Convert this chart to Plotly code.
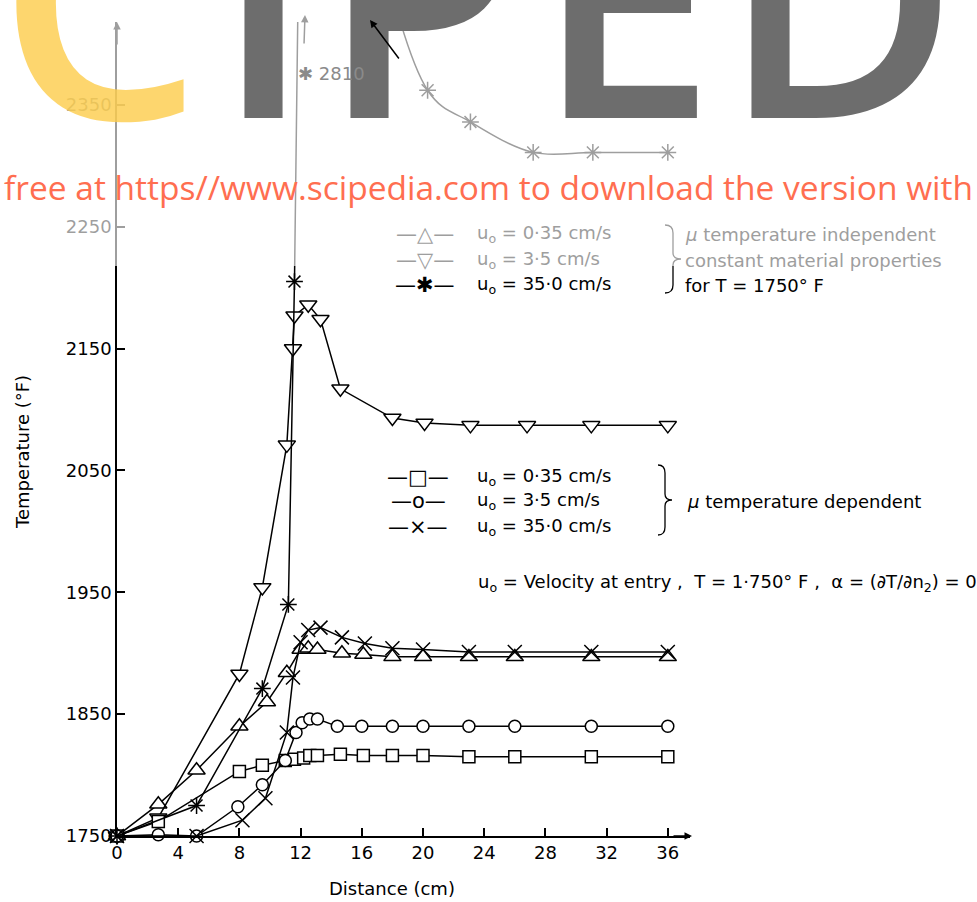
import plotly.graph_objects as go

# Distance from entry (cm) and wall temperature (deg F) for each case
# mu temperature independent (constant properties)
x_up = [0, 2.7, 5.2, 8.0, 9.8, 11.1, 12.0, 12.5, 13.1, 14.7, 16.1, 18.0, 20.0, 23.0, 26.0, 31.0, 36.0]
t_up = [1750, 1776, 1804, 1840, 1860, 1884, 1903, 1904, 1903, 1900, 1899, 1897, 1897, 1897, 1897, 1897, 1897]

x_down = [0, 2.7, 8.0, 9.5, 11.1, 11.5, 11.6, 12.5, 13.3, 14.6, 18.0, 20.1, 23.1, 26.8, 31.0, 36.0]
t_down = [1750, 1765, 1883, 1954, 2071, 2150, 2177, 2186, 2174, 2117, 2093, 2089, 2087, 2087, 2087, 2087]

x_star = [0, 5.2, 9.5, 11.2, 11.6, 12.2, 20.3, 23.1, 27.2, 31.1, 36.0]
t_star = [1750, 1775, 1871, 1940, 2205, 2810, 2362, 2336, 2311, 2311, 2311]
peak_idx = t_star.index(max(t_star))

# mu temperature dependent
x_sq = [0, 2.7, 8.0, 9.5, 11.0, 11.6, 12.2, 12.6, 13.1, 14.6, 16.1, 18.0, 20.0, 23.0, 26.0, 31.0, 36.0]
t_sq = [1750, 1762, 1803, 1808, 1812, 1813, 1814, 1816, 1816, 1817, 1816, 1816, 1816, 1815, 1815, 1815, 1815]

x_circ = [0, 2.7, 5.2, 7.9, 9.5, 11.0, 11.7, 12.1, 12.6, 13.1, 14.4, 16.0, 18.0, 20.0, 23.0, 26.0, 31.0, 36.0]
t_circ = [1750, 1751, 1750, 1774, 1792, 1812, 1835, 1843, 1846, 1846, 1840, 1840, 1840, 1840, 1840, 1840, 1840, 1840]

x_cross = [0, 5.2, 8.2, 9.7, 11.1, 11.5, 12.0, 12.5, 13.3, 14.7, 16.2, 18.0, 20.0, 23.0, 26.0, 31.0, 36.0]
t_cross = [1750, 1750, 1763, 1781, 1835, 1880, 1909, 1919, 1921, 1913, 1908, 1904, 1903, 1901, 1901, 1901, 1901]

x_ticks = [0, 4, 8, 12, 16, 20, 24, 28, 32, 36]
y_ticks = [1750, 1850, 1950, 2050, 2150, 2250, 2350]

# page geometry (pixels) of the plotting area
W, H = 977, 902
L, R, T, B = 117, 690, 22, 836
X_MAX = 37.45
Y_MIN, Y_MAX = 1750, 2418

FONT = "DejaVu Sans"
INK = "black"
FADED = "#9e9e9e"


def px(x):
    return (x - L) / (R - L)


def py(y):
    return (B - y) / (B - T)


def series(x, y, symbol, size, name, shape="linear", fill="white"):
    return go.Scatter(
        x=x, y=y, mode="lines+markers", name=name, cliponaxis=False,
        line=dict(color=INK, width=1.5, shape=shape, smoothing=1.0),
        marker=dict(symbol=symbol, size=size, color=fill,
                    line=dict(color=INK, width=1.5)),
        showlegend=False,
    )


fig = go.Figure()
fig.add_trace(series(x_up, t_up, "triangle-up", 15, "u0=0.35 const"))
fig.add_trace(series(x_down, t_down, "triangle-down", 15, "u0=3.5 const"))
fig.add_trace(series(x_sq, t_sq, "square", 12, "u0=0.35 mu(T)"))
fig.add_trace(series(x_circ, t_circ, "circle", 12, "u0=3.5 mu(T)"))
fig.add_trace(series(x_cross, t_cross, "x-thin", 14, "u0=35 mu(T)"))
fig.add_trace(series(x_star[:peak_idx + 1], t_star[:peak_idx + 1],
                     "asterisk", 14, "u0=35 const"))
fig.add_trace(series(x_star[peak_idx:], t_star[peak_idx:],
                     "asterisk", 14, "u0=35 const tail", shape="spline"))

ann = []

# site watermark (drawn first so the chart labels sit on top of it)
ann.append(dict(text="free at https//www.scipedia.com to download the version with",
                x=px(2), y=py(212), xref="paper", yref="paper", xanchor="left",
                yanchor="bottom", showarrow=False,
                font=dict(family="Open Sans", size=33.5, color="#ff6e50")))
big = dict(family="Open Sans", size=325, weight=600, color="#6d6d6d")
for letter, cx in [("I", 263), ("P", 420), ("E", 625), ("D", 840)]:
    ann.append(dict(text=letter, x=px(cx), y=py(215), xref="paper", yref="paper",
                    xanchor="center", yanchor="bottom", showarrow=False, font=big))
ann.append(dict(text="C", x=px(100), y=py(216), xref="paper", yref="paper",
                xanchor="center", yanchor="bottom", showarrow=False, opacity=0.8,
                font=dict(family="Open Sans", size=325, weight=600,
                          color="rgb(253,205,74)")))


def text(s, x, y, size=18, color=INK, xanchor="left", yanchor="middle", **kw):
    ann.append(dict(text=s, x=px(x), y=py(y), xref="paper", yref="paper",
                    xanchor=xanchor, yanchor=yanchor, showarrow=False,
                    font=dict(family=FONT, size=size, color=color), **kw))


# legend: constant-property cases
text("—△—", 425, 234, size=21, color=FADED, xanchor="center")
text("u<sub>o</sub> = 0·35 cm/s", 475, 234, color=FADED)
text("—▽—", 425, 260, size=21, color=FADED, xanchor="center")
text("u<sub>o</sub> = 3·5 cm/s", 475, 260, color=FADED)
text("—✱—", 425, 285, size=21, xanchor="center")
text("u<sub>o</sub> = 35·0 cm/s", 475, 285)
text("<i>μ</i> temperature independent", 683, 234, color=FADED)
text("constant material properties", 683, 260, color=FADED)
text("for T = 1750° F", 683, 285)

# legend: temperature-dependent viscosity cases
text("—□—", 418, 477, size=21, xanchor="center")
text("u<sub>o</sub> = 0·35 cm/s", 475, 477)
text("—o—", 418, 501, size=21, xanchor="center")
text("u<sub>o</sub> = 3·5 cm/s", 475, 501)
text("—×—", 418, 527, size=21, xanchor="center")
text("u<sub>o</sub> = 35·0 cm/s", 475, 527)
text("<i>μ</i> temperature dependent", 685, 501)

text("u<sub>o</sub> = Velocity at entry ,  T = 1·750° F ,  α = (∂T/∂n<sub>2</sub>) = 0",
     476, 583)

# off-scale peak label
text("✱ 2810", 296, 73, color="#8a8a8a")

# axis titles
text("Distance (cm)", 392, 888, size=18, xanchor="center")
ann.append(dict(text="Temperature (°F)", x=px(22), y=py(452), xref="paper", yref="paper",
                textangle=-90, showarrow=False, xanchor="center", yanchor="middle",
                font=dict(family=FONT, size=18, color=INK)))

# axis arrowheads and off-scale arrows
ann.append(dict(x=px(R + 2), y=py(B), xref="paper", yref="paper", ax=-20, ay=0,
                showarrow=True, arrowhead=2, arrowwidth=1.5, arrowcolor=INK, text=""))
ann.append(dict(x=px(L), y=py(T), xref="paper", yref="paper", ax=0, ay=24,
                showarrow=True, arrowhead=2, arrowwidth=1.5, arrowcolor=FADED, text=""))
ann.append(dict(x=px(305), y=py(15), xref="paper", yref="paper", ax=-1, ay=30,
                showarrow=True, arrowhead=2, arrowwidth=1.5, arrowcolor=FADED, text=""))
ann.append(dict(x=px(370), y=py(20), xref="paper", yref="paper", ax=30, ay=40,
                showarrow=True, arrowhead=2, arrowwidth=1.5, arrowcolor=INK, text=""))


def brace(x0, y0, y1, w):
    ym = (y0 + y1) / 2
    xm = x0 + w / 2
    pts = (f"M {px(x0)},{py(y0)} Q {px(xm)},{py(y0)} {px(xm)},{py(y0 + 8)} "
           f"L {px(xm)},{py(ym - 6)} Q {px(xm)},{py(ym)} {px(x0 + w)},{py(ym)} "
           f"Q {px(xm)},{py(ym)} {px(xm)},{py(ym + 6)} "
           f"L {px(xm)},{py(y1 - 8)} Q {px(xm)},{py(y1)} {px(x0)},{py(y1)}")
    return dict(type="path", path=pts, xref="paper", yref="paper",
                line=dict(color=INK, width=1.3), layer="above")


shapes = [
    brace(665, 225, 293, 16),
    brace(658, 465, 535, 14),
    # faded upper part of the page
    dict(type="rect", xref="paper", yref="paper", x0=px(-10), x1=px(W + 10),
         y0=py(266), y1=py(-10), fillcolor="white", opacity=0.62,
         line=dict(width=0), layer="above"),
]

axis_common = dict(showgrid=False, zeroline=False, showline=True, linecolor=INK,
                   linewidth=1.5, ticks="inside", ticklen=8, tickwidth=1.5,
                   tickcolor=INK, tickfont=dict(family=FONT, size=18, color=INK))

fig.update_layout(
    width=W, height=H, autosize=False,
    margin=dict(l=L, r=W - R, t=T, b=H - B, pad=0),
    paper_bgcolor="white", plot_bgcolor="white",
    xaxis=dict(range=[0, X_MAX], tickvals=x_ticks, **axis_common),
    yaxis=dict(range=[Y_MIN, Y_MAX], tickvals=y_ticks, **axis_common),
    annotations=ann, shapes=shapes,
)

fig.write_html("out.html")
